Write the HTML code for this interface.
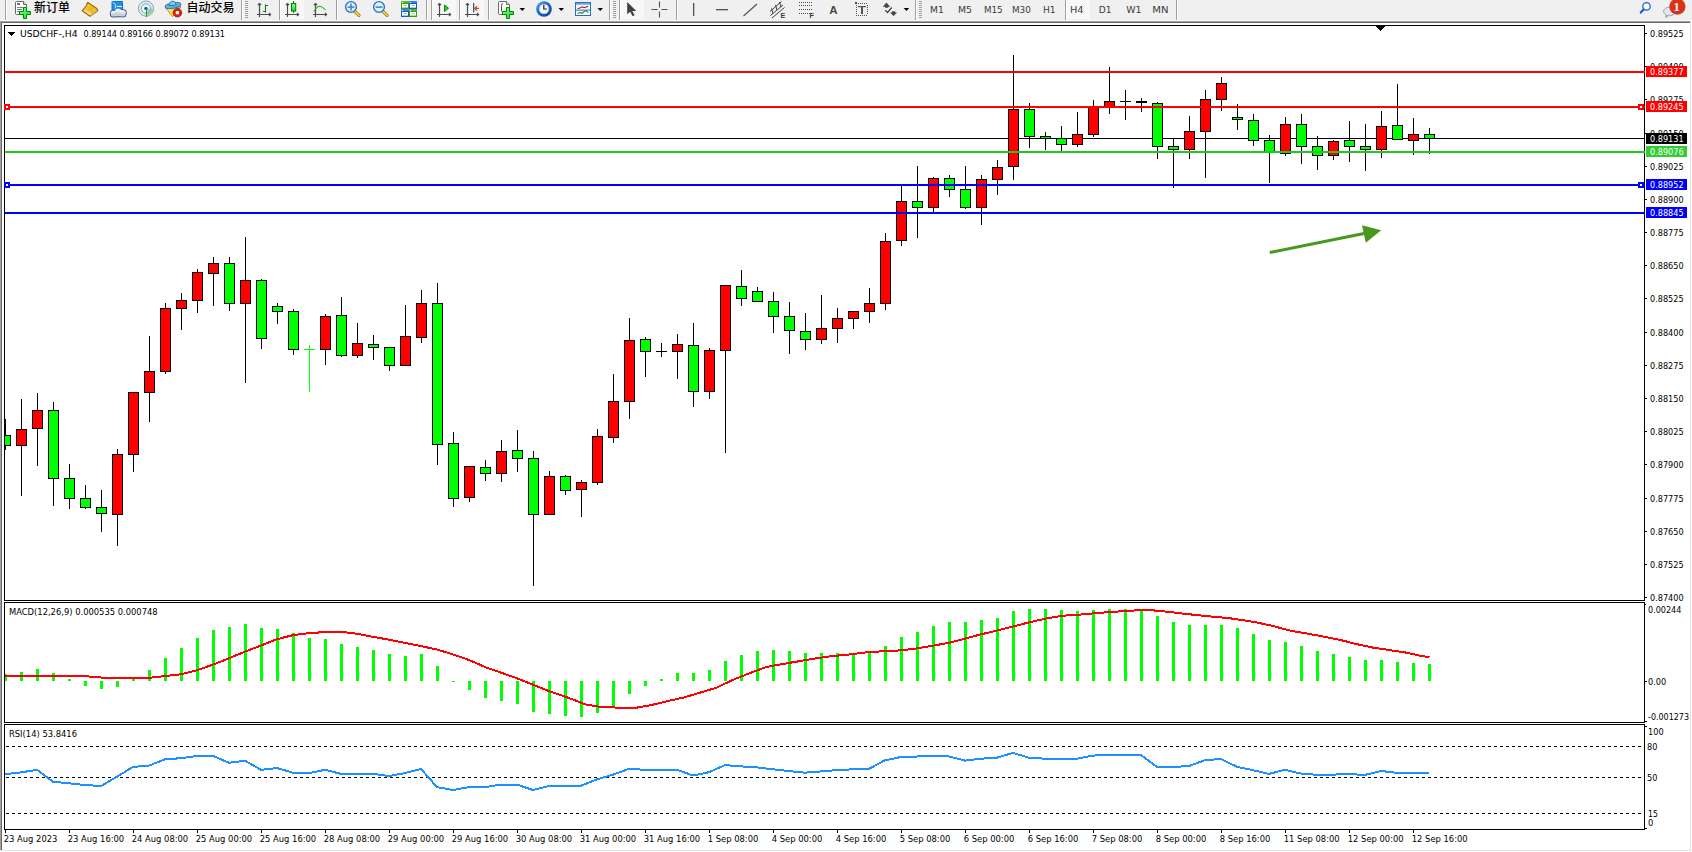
<!DOCTYPE html>
<html><head><meta charset="utf-8"><title>USDCHF-,H4</title>
<style>html,body{margin:0;padding:0;background:#fff;width:1692px;height:852px;overflow:hidden}svg{display:block}text{white-space:pre}</style>
</head><body>
<svg width="1692" height="852" viewBox="0 0 1692 852" shape-rendering="crispEdges" font-family="'DejaVu Sans', 'Liberation Sans', sans-serif" font-stretch="condensed"><g shape-rendering="geometricPrecision">
<rect x="0" y="0" width="1692" height="20" fill="#f0f0f0"/>
<rect x="0" y="20" width="1692" height="1" fill="#f9f9f9"/>
<defs><pattern id="dots" width="2" height="2" patternUnits="userSpaceOnUse"><rect width="2" height="2" fill="#f2f2f2"/><rect width="1" height="1" fill="#fdfdfd"/><rect x="1" y="1" width="1" height="1" fill="#fdfdfd"/></pattern><linearGradient id="gplus" x1="0" y1="0" x2="1" y2="1"><stop offset="0" stop-color="#90ff90"/><stop offset="1" stop-color="#00e020"/></linearGradient><linearGradient id="ggold" x1="0" y1="0" x2="1" y2="1"><stop offset="0" stop-color="#f8e070"/><stop offset="0.5" stop-color="#e8b818"/><stop offset="1" stop-color="#f0d050"/></linearGradient><linearGradient id="gcloud" x1="0" y1="0" x2="0" y2="1"><stop offset="0" stop-color="#ffffff"/><stop offset="1" stop-color="#b8c4d8"/></linearGradient><linearGradient id="gcandle" x1="0" y1="0" x2="0" y2="1"><stop offset="0" stop-color="#a0ffa0"/><stop offset="1" stop-color="#20d040"/></linearGradient><radialGradient id="gclock" cx="0.35" cy="0.3" r="0.75"><stop offset="0" stop-color="#58b0ff"/><stop offset="0.6" stop-color="#1a70d8"/><stop offset="1" stop-color="#084098"/></radialGradient><radialGradient id="gsig" cx="0.5" cy="0.5" r="0.5"><stop offset="0" stop-color="#ffffff"/><stop offset="1" stop-color="#d8ecd8"/></radialGradient></defs>
<rect x="5" y="0" width="1" height="20" fill="#a0a0a0"/>
<rect x="6" y="0" width="1" height="20" fill="#ffffff"/>
<path d="M15.5 2.5 q0-1 1-1 h7 l3 3 v9 q0 1 -1 1 h-9 q-1 0 -1 -1 z" fill="#ffffff" stroke="#6a6a6a"/>
<path d="M23.5 1.5 v3 h3" fill="#e8e8e8" stroke="#6a6a6a"/>
<rect x="17" y="3" width="3" height="2" fill="#707070"/>
<rect x="17" y="7" width="6" height="1" fill="#808080"/>
<rect x="17" y="9" width="5" height="1" fill="#808080"/>
<rect x="17" y="11" width="3" height="1" fill="#808080"/>
<path d="M23.5 7.5 h3 v4 h4 v3 h-4 v4 h-3 v-4 h-4 v-3 h4 z" fill="url(#gplus)" stroke="#008a00"/>
<text x="34" y="12.4" font-size="12" font-weight="500" fill="#000" font-family="'Noto Sans CJK SC', sans-serif" font-stretch="normal">新订单</text>
<path d="M87.7 2.4 L96.8 8.5 L97.7 10.8 L89.9 16.3 L82.3 10.7 L86.1 6 Z" fill="url(#ggold)" stroke="#9a6206" stroke-width="1.1" stroke-linejoin="round"/>
<path d="M83.3 10.8 L89.9 15.5 L92.3 13.8 L85.6 9.2 Z" fill="#f4dc8c" opacity="0.85"/>
<path d="M91.2 15.3 L97.2 11" stroke="#e0d4a0" stroke-width="1.1" stroke-dasharray="1 0.8"/>
<path d="M112 1.5 h10.5 v9 h-10.5 z" fill="#1a90f0" stroke="#1070d0"/>
<path d="M112.5 2 l3 2.5 v7" stroke="#bfe4ff" fill="none"/>
<rect x="117" y="6" width="5" height="1" fill="#e8f6ff"/>
<circle cx="113.6" cy="13.6" r="3.8" fill="#405a88"/>
<circle cx="118.2" cy="11.8" r="4.3" fill="#405a88"/>
<circle cx="122.6" cy="13.2" r="4.1000000000000005" fill="#405a88"/>
<rect x="110.2" y="13" width="15.6" height="4.2" rx="2" fill="#405a88"/>
<circle cx="113.6" cy="13.6" r="2.9" fill="url(#gcloud)"/>
<circle cx="118.2" cy="11.8" r="3.4" fill="url(#gcloud)"/>
<circle cx="122.6" cy="13.2" r="3.2" fill="url(#gcloud)"/>
<rect x="111.1" y="13.6" width="13.8" height="2.7" rx="1.3" fill="#c8d0e0"/>
<circle cx="146" cy="8.6" r="7.6" fill="url(#gsig)" stroke="#7896d0" stroke-width="0.9"/>
<path d="M146 8.6 L146 16.2 A7.6 7.6 0 0 0 153.6 8.6 Z" fill="#9ad09a" opacity="0.8"/>
<circle cx="146" cy="8.6" r="4.8" fill="none" stroke="#7896d0" stroke-width="0.9"/>
<circle cx="145.9" cy="8.4" r="1.7" fill="#2050c8"/>
<rect x="146" y="9" width="1" height="8" fill="#20a020"/>
<path d="M165.6 7.8 L181 6.8 L172.6 16.6 Z" fill="#f6e060" stroke="#c09818" stroke-linejoin="round"/>
<ellipse cx="173" cy="5.6" rx="7.9" ry="2.6" transform="rotate(-10 173 5.6)" fill="#5ab2ec" stroke="#2a7aa8"/>
<path d="M169.2 5.6 q0 -4.4 3.6 -4.4 q3.4 0 3.4 4 z" fill="#80c8f4" stroke="#2a7aa8"/>
<circle cx="177.4" cy="12.7" r="4.3" fill="#e02010" stroke="#a01008" stroke-width="0.8"/>
<rect x="175.8" y="11.1" width="3.2" height="3.2" fill="#ffffff"/>
<text x="186.5" y="12.4" font-size="12" font-weight="500" fill="#000" font-family="'Noto Sans CJK SC', sans-serif" font-stretch="normal">自动交易</text>
<rect x="241" y="0" width="1" height="20" fill="#a0a0a0"/>
<rect x="242" y="0" width="1" height="20" fill="#ffffff"/>
<rect x="245" y="1" width="3" height="1" fill="#a0a0a0"/>
<rect x="245" y="3" width="3" height="1" fill="#a0a0a0"/>
<rect x="245" y="5" width="3" height="1" fill="#a0a0a0"/>
<rect x="245" y="7" width="3" height="1" fill="#a0a0a0"/>
<rect x="245" y="9" width="3" height="1" fill="#a0a0a0"/>
<rect x="245" y="11" width="3" height="1" fill="#a0a0a0"/>
<rect x="245" y="13" width="3" height="1" fill="#a0a0a0"/>
<rect x="245" y="15" width="3" height="1" fill="#a0a0a0"/>
<rect x="245" y="17" width="3" height="1" fill="#a0a0a0"/>
<path d="M259.5 3.5 v13.5 M257 14.5 h13.5" stroke="#4c4c4c" stroke-width="1.2" fill="none"/>
<path d="M257.8 5.2 l1.7 -1.7 l1.7 1.7 M269 12.8 l1.7 1.7 l-1.7 1.7" stroke="#4c4c4c" stroke-width="1.1" fill="none"/>
<path d="M263 11.5 h2.5 M265.5 4.5 v8 M265.5 5.5 h2.5" stroke="#008800" stroke-width="1.1" fill="none"/>
<rect x="279" y="0" width="1" height="20" fill="#a0a0a0"/>
<rect x="280" y="0" width="1" height="20" fill="#ffffff"/>
<rect x="281" y="0" width="23" height="19" fill="url(#dots)"/>
<path d="M287.5 3.5 v13.5 M285 14.5 h13.5" stroke="#4c4c4c" stroke-width="1.2" fill="none"/>
<path d="M285.8 5.2 l1.7 -1.7 l1.7 1.7 M297 12.8 l1.7 1.7 l-1.7 1.7" stroke="#4c4c4c" stroke-width="1.1" fill="none"/>
<path d="M293.5 1 v12" stroke="#008800" stroke-width="1.1"/>
<rect x="291.5" y="3.5" width="4.2" height="7.5" fill="url(#gcandle)" stroke="#008800" stroke-width="1.1"/>
<path d="M315.5 3.5 v13.5 M313 14.5 h13.5" stroke="#4c4c4c" stroke-width="1.2" fill="none"/>
<path d="M313.8 5.2 l1.7 -1.7 l1.7 1.7 M325 12.8 l1.7 1.7 l-1.7 1.7" stroke="#4c4c4c" stroke-width="1.1" fill="none"/>
<path d="M314 11.5 q3 -5.5 6 -5.3 q2.5 0.3 5.5 3.8" stroke="#30a030" fill="none" stroke-width="1.1"/>
<rect x="336" y="0" width="1" height="20" fill="#a0a0a0"/>
<rect x="337" y="0" width="1" height="20" fill="#ffffff"/>
<path d="M354.2 10.6 l4.8 4.8" stroke="#a07800" stroke-width="3.2" stroke-linecap="round"/>
<path d="M354.2 10.6 l4.8 4.8" stroke="#f0d850" stroke-width="1.6" stroke-linecap="round"/>
<circle cx="351" cy="7" r="5.4" fill="#dcf2fc" stroke="#3070c8" stroke-width="1.4"/>
<rect x="347.6" y="6.3" width="6.8" height="1.6" fill="#4a88b0"/>
<rect x="350.2" y="3.5" width="1.6" height="7" fill="#4a88b0"/>
<path d="M382.2 10.6 l4.8 4.8" stroke="#a07800" stroke-width="3.2" stroke-linecap="round"/>
<path d="M382.2 10.6 l4.8 4.8" stroke="#f0d850" stroke-width="1.6" stroke-linecap="round"/>
<circle cx="379" cy="7" r="5.4" fill="#dcf2fc" stroke="#3070c8" stroke-width="1.4"/>
<rect x="375.6" y="6.3" width="6.8" height="1.6" fill="#4a88b0"/>
<rect x="401" y="1" width="8" height="8" fill="#3a9a12"/>
<rect x="401" y="1" width="8" height="2" fill="#58b830"/>
<rect x="402" y="4" width="6" height="4" fill="#ffffff"/>
<rect x="403" y="5" width="4" height="1" fill="#a8e090"/>
<rect x="402" y="7" width="6" height="1" fill="#a8e090"/>
<rect x="402" y="2" width="1" height="1" fill="#ffffff"/>
<rect x="409" y="1" width="8" height="8" fill="#1458d8"/>
<rect x="409" y="1" width="8" height="2" fill="#3c80f0"/>
<rect x="410" y="4" width="6" height="4" fill="#ffffff"/>
<rect x="411" y="5" width="4" height="1" fill="#a8c8f8"/>
<rect x="410" y="7" width="6" height="1" fill="#a8c8f8"/>
<rect x="410" y="2" width="1" height="1" fill="#ffffff"/>
<rect x="401" y="9" width="8" height="8" fill="#1458d8"/>
<rect x="401" y="9" width="8" height="2" fill="#3c80f0"/>
<rect x="402" y="12" width="6" height="4" fill="#ffffff"/>
<rect x="403" y="13" width="4" height="1" fill="#a8c8f8"/>
<rect x="402" y="15" width="6" height="1" fill="#a8c8f8"/>
<rect x="402" y="10" width="1" height="1" fill="#ffffff"/>
<rect x="409" y="9" width="8" height="8" fill="#3a9a12"/>
<rect x="409" y="9" width="8" height="2" fill="#58b830"/>
<rect x="410" y="12" width="6" height="4" fill="#ffffff"/>
<rect x="411" y="13" width="4" height="1" fill="#a8e090"/>
<rect x="410" y="15" width="6" height="1" fill="#a8e090"/>
<rect x="410" y="10" width="1" height="1" fill="#ffffff"/>
<rect x="426" y="0" width="1" height="20" fill="#a0a0a0"/>
<rect x="427" y="0" width="1" height="20" fill="#ffffff"/>
<rect x="431" y="0" width="1" height="20" fill="#a0a0a0"/>
<rect x="432" y="0" width="1" height="20" fill="#ffffff"/>
<rect x="433" y="0" width="23" height="19" fill="url(#dots)"/>
<path d="M439.5 3.5 v13.5 M437 14.5 h13.5" stroke="#4c4c4c" stroke-width="1.2" fill="none"/>
<path d="M437.8 5.2 l1.7 -1.7 l1.7 1.7 M449 12.8 l1.7 1.7 l-1.7 1.7" stroke="#4c4c4c" stroke-width="1.1" fill="none"/>
<path d="M444.5 5 v6.5 l4 -3.25 z" fill="#30d030" stroke="#008800" stroke-width="1"/>
<rect x="459" y="0" width="1" height="20" fill="#a0a0a0"/>
<rect x="460" y="0" width="1" height="20" fill="#ffffff"/>
<rect x="461" y="0" width="23" height="19" fill="url(#dots)"/>
<path d="M467.5 3.5 v13.5 M465 14.5 h13.5" stroke="#4c4c4c" stroke-width="1.2" fill="none"/>
<path d="M465.8 5.2 l1.7 -1.7 l1.7 1.7 M477 12.8 l1.7 1.7 l-1.7 1.7" stroke="#4c4c4c" stroke-width="1.1" fill="none"/>
<rect x="473" y="3" width="1.3" height="9.5" fill="#1868a0"/>
<path d="M479 8.4 h-4 M477 6.2 l-2.2 2.2 l2.2 2.2" stroke="#d84808" fill="none" stroke-width="1.3"/>
<rect x="488" y="0" width="1" height="20" fill="#a0a0a0"/>
<rect x="489" y="0" width="1" height="20" fill="#ffffff"/>
<path d="M498.5 2.5 q0-1 1-1 h7 l3 3 v9 q0 1 -1 1 h-9 q-1 0 -1 -1 z" fill="#ffffff" stroke="#6a6a6a"/>
<path d="M506.5 1.5 v3 h3" fill="#e8e8e8" stroke="#6a6a6a"/>
<path d="M503 3.5 q-1.5 0 -1.5 2 v6" stroke="#404020" fill="none" stroke-width="0.9"/>
<path d="M506.5 7.5 h3 v4 h4 v3 h-4 v4 h-3 v-4 h-4 v-3 h4 z" fill="url(#gplus)" stroke="#008a00"/>
<path d="M519.5 8 h5.5 l-2.75 3 z" fill="#000"/>
<circle cx="544" cy="9" r="7.8" fill="url(#gclock)"/>
<circle cx="544" cy="9" r="5.3" fill="#f4f6f8" stroke="#0a50a8" stroke-width="0.6"/>
<path d="M543.8 5 v4 h3" stroke="#202020" fill="none" stroke-width="1.2"/>
<path d="M544 4 v0.8 M544 13.2 v0.8 M539 9 h0.8 M548.2 9 h0.8" stroke="#909090" stroke-width="0.8"/>
<path d="M558.5 8 h5.5 l-2.75 3 z" fill="#000"/>
<rect x="575.5" y="2.5" width="15" height="13" fill="#f8fbff" stroke="#2a6ac8"/>
<rect x="576" y="3" width="14" height="1.8" fill="#6aa8e8"/>
<rect x="576" y="9.6" width="14" height="1" fill="#2a6ac8"/>
<path d="M577.5 8.5 l2.5 -0.5 l2 -1.2 l2 0.8 l2.2 -0.5 l2 -0.9" stroke="#a02010" fill="none" stroke-width="1.1"/>
<path d="M577.5 13.5 l2.5 -1 l2 0.8 l2.2 -1.8 l2 -0.8 l2 2" stroke="#209020" fill="none" stroke-width="1.1"/>
<path d="M597.5 8 h5.5 l-2.75 3 z" fill="#000"/>
<rect x="609" y="0" width="1" height="20" fill="#a0a0a0"/>
<rect x="610" y="0" width="1" height="20" fill="#ffffff"/>
<rect x="613" y="1" width="3" height="1" fill="#a0a0a0"/>
<rect x="613" y="3" width="3" height="1" fill="#a0a0a0"/>
<rect x="613" y="5" width="3" height="1" fill="#a0a0a0"/>
<rect x="613" y="7" width="3" height="1" fill="#a0a0a0"/>
<rect x="613" y="9" width="3" height="1" fill="#a0a0a0"/>
<rect x="613" y="11" width="3" height="1" fill="#a0a0a0"/>
<rect x="613" y="13" width="3" height="1" fill="#a0a0a0"/>
<rect x="613" y="15" width="3" height="1" fill="#a0a0a0"/>
<rect x="613" y="17" width="3" height="1" fill="#a0a0a0"/>
<rect x="619" y="0" width="1" height="20" fill="#a0a0a0"/>
<rect x="620" y="0" width="1" height="20" fill="#ffffff"/>
<rect x="621" y="0" width="23" height="19" fill="url(#dots)"/>
<path d="M627.2 2 v12.3 l3 -2.6 l2.4 4.6 l2 -1 l-2.3 -4.4 h4 z" fill="#404040"/>
<path d="M659.5 1.5 v6 M659.5 11.5 v6 M651.5 9.5 h6 M661.5 9.5 h6" stroke="#505050" stroke-width="1.1"/>
<rect x="676" y="0" width="1" height="20" fill="#a0a0a0"/>
<rect x="677" y="0" width="1" height="20" fill="#ffffff"/>
<rect x="693" y="3" width="1.3" height="13" fill="#505050"/>
<rect x="716" y="9" width="12" height="1.3" fill="#505050"/>
<path d="M743.5 16 L757 4" stroke="#505050" stroke-width="1.2"/>
<path d="M770 11.5 L781.5 1.5 M770.5 15.5 L783 5 M772 18 L784.5 7.5" stroke="#404040" stroke-width="1" fill="none"/>
<path d="M771.5 8.5 l1.5 5 M775.5 5 l1.5 5 M779.5 2 l1.5 5" stroke="#404040" fill="none"/>
<text x="780.6" y="18.2" font-size="7.2" font-weight="bold" fill="#383838" font-family="'Liberation Sans', Arial, sans-serif" font-stretch="normal">E</text>
<path d="M799 2.5 h13" stroke="#505050" stroke-dasharray="1 1"/>
<path d="M799 5.5 h13" stroke="#505050" stroke-dasharray="1 1"/>
<path d="M799 9.5 h13" stroke="#505050" stroke-dasharray="1 1"/>
<path d="M799 13.5 h13" stroke="#505050" stroke-dasharray="1 1"/>
<text x="809.4" y="18.2" font-size="7.2" font-weight="bold" fill="#383838" font-family="'Liberation Sans', Arial, sans-serif" font-stretch="normal">F</text>
<text x="829.2" y="14" font-size="11.5" font-weight="bold" fill="#484848" font-family="'Liberation Sans', Arial, sans-serif" font-stretch="normal">A</text>
<rect x="858" y="3" width="1" height="1" fill="#505050"/>
<rect x="860" y="3" width="1" height="1" fill="#505050"/>
<rect x="862" y="3" width="1" height="1" fill="#505050"/>
<rect x="864" y="3" width="1" height="1" fill="#505050"/>
<rect x="866" y="3" width="1" height="1" fill="#505050"/>
<rect x="856" y="15" width="1" height="1" fill="#505050"/>
<rect x="858" y="15" width="1" height="1" fill="#505050"/>
<rect x="860" y="15" width="1" height="1" fill="#505050"/>
<rect x="862" y="15" width="1" height="1" fill="#505050"/>
<rect x="864" y="15" width="1" height="1" fill="#505050"/>
<rect x="866" y="15" width="1" height="1" fill="#505050"/>
<rect x="856" y="5" width="1" height="1" fill="#505050"/>
<rect x="867" y="5" width="1" height="1" fill="#505050"/>
<rect x="856" y="7" width="1" height="1" fill="#505050"/>
<rect x="867" y="7" width="1" height="1" fill="#505050"/>
<rect x="856" y="9" width="1" height="1" fill="#505050"/>
<rect x="867" y="9" width="1" height="1" fill="#505050"/>
<rect x="856" y="11" width="1" height="1" fill="#505050"/>
<rect x="867" y="11" width="1" height="1" fill="#505050"/>
<rect x="856" y="13" width="1" height="1" fill="#505050"/>
<rect x="867" y="13" width="1" height="1" fill="#505050"/>
<rect x="855" y="2" width="2" height="2" fill="#505050"/>
<rect x="858" y="6" width="8" height="1.2" fill="#505050"/>
<rect x="861" y="6" width="2" height="8" fill="#505050"/>
<path d="M886.4 2.6 L890.2 6.8 H888.2 V7.8 H885 V6.8 H882.8 Z" fill="#484848"/>
<path d="M893.5 16 L897.2 12.4 H895.2 V11.3 H892 V12.4 H889.9 Z" fill="#484848"/>
<path d="M885.3 10.2 l2.2 2.3 l4.3 -5" stroke="#404040" fill="none" stroke-width="1.2"/>
<path d="M903.7 8 h5.5 l-2.75 3 z" fill="#000"/>
<rect x="915" y="0" width="1" height="20" fill="#a0a0a0"/>
<rect x="916" y="0" width="1" height="20" fill="#ffffff"/>
<rect x="919" y="1" width="3" height="1" fill="#a0a0a0"/>
<rect x="919" y="3" width="3" height="1" fill="#a0a0a0"/>
<rect x="919" y="5" width="3" height="1" fill="#a0a0a0"/>
<rect x="919" y="7" width="3" height="1" fill="#a0a0a0"/>
<rect x="919" y="9" width="3" height="1" fill="#a0a0a0"/>
<rect x="919" y="11" width="3" height="1" fill="#a0a0a0"/>
<rect x="919" y="13" width="3" height="1" fill="#a0a0a0"/>
<rect x="919" y="15" width="3" height="1" fill="#a0a0a0"/>
<rect x="919" y="17" width="3" height="1" fill="#a0a0a0"/>
<rect x="1065" y="0" width="1" height="20" fill="#a0a0a0"/>
<rect x="1066" y="0" width="1" height="20" fill="#ffffff"/>
<rect x="1067" y="0" width="23" height="19" fill="url(#dots)"/>
<text x="930.0999999999999" y="13" font-size="9.4" fill="#3c3c3c" textLength="13.8" lengthAdjust="spacingAndGlyphs">M1</text>
<text x="957.9" y="13" font-size="9.4" fill="#3c3c3c" textLength="14.100000000000001" lengthAdjust="spacingAndGlyphs">M5</text>
<text x="983.9" y="13" font-size="9.4" fill="#3c3c3c" textLength="18.7" lengthAdjust="spacingAndGlyphs">M15</text>
<text x="1011.9" y="13" font-size="9.4" fill="#3c3c3c" textLength="19.0" lengthAdjust="spacingAndGlyphs">M30</text>
<text x="1042.8999999999999" y="13" font-size="9.4" fill="#3c3c3c" textLength="12.700000000000001" lengthAdjust="spacingAndGlyphs">H1</text>
<text x="1070.0" y="13" font-size="9.4" fill="#3c3c3c" textLength="13.600000000000001" lengthAdjust="spacingAndGlyphs">H4</text>
<text x="1098.8" y="13" font-size="9.4" fill="#3c3c3c" textLength="12.8" lengthAdjust="spacingAndGlyphs">D1</text>
<text x="1126.3" y="13" font-size="9.4" fill="#3c3c3c" textLength="15.3" lengthAdjust="spacingAndGlyphs">W1</text>
<text x="1152.3" y="13" font-size="9.4" fill="#3c3c3c" textLength="16.3" lengthAdjust="spacingAndGlyphs">MN</text>
<rect x="1176" y="0" width="1" height="20" fill="#a0a0a0"/>
<rect x="1177" y="0" width="1" height="20" fill="#ffffff"/>
<circle cx="1646.5" cy="6.4" r="3.7" fill="#fafcff" stroke="#1a5fd0" stroke-width="1.3"/>
<path d="M1643.6 9.6 l-2.8 3" stroke="#1a5fd0" stroke-width="2.2" stroke-linecap="round"/>
<ellipse cx="1669.5" cy="11.5" rx="6" ry="4.3" fill="#e4e6ee" stroke="#a0a0a8"/>
<path d="M1666.5 15 l-0.8 2.5 l3 -2.4" fill="#e4e6ee" stroke="#909098"/>
<circle cx="1677.4" cy="6.6" r="8.1" fill="#dc3218"/>
<text x="1676.6" y="11.3" font-size="12.5" font-weight="bold" fill="#fff" text-anchor="middle" font-family="'Liberation Serif', serif" font-stretch="normal">1</text>
</g>
<rect x="0" y="21" width="1691" height="1" fill="#a0a0a0"/>
<rect x="1" y="22" width="1689" height="1" fill="#696969"/>
<rect x="0" y="21" width="1" height="830" fill="#a0a0a0"/>
<rect x="1" y="22" width="1" height="828" fill="#696969"/>
<rect x="2" y="23" width="1688" height="827" fill="#ffffff"/>
<rect x="1690" y="21" width="1" height="830" fill="#e3e3e3"/>
<rect x="0" y="850" width="1691" height="1" fill="#e3e3e3"/>
<rect x="1691" y="21" width="1" height="831" fill="#ffffff"/>
<rect x="0" y="851" width="1692" height="1" fill="#ffffff"/>
<rect x="4.5" y="25.5" width="1640" height="575" fill="none" stroke="#000" stroke-width="1"/>
<rect x="4.5" y="602.5" width="1640" height="120" fill="none" stroke="#000" stroke-width="1"/>
<rect x="4.5" y="724.5" width="1640" height="105" fill="none" stroke="#000" stroke-width="1"/>
<defs><clipPath id="cm"><rect x="5" y="26" width="1639" height="574"/></clipPath><clipPath id="cmacd"><rect x="5" y="603" width="1639" height="119"/></clipPath><clipPath id="crsi"><rect x="5" y="725" width="1639" height="104"/></clipPath></defs>
<rect x="5" y="138" width="1639" height="1" fill="#000"/>
<g clip-path="url(#cm)">
<rect x="5" y="419" width="1" height="31" fill="#000"/>
<rect x="0" y="435" width="11" height="11" fill="#000"/>
<rect x="1" y="436" width="9" height="9" fill="#00ff00"/>
<rect x="21" y="399" width="1" height="97" fill="#000"/>
<rect x="16" y="429" width="11" height="17" fill="#000"/>
<rect x="17" y="430" width="9" height="15" fill="#ff0000"/>
<rect x="37" y="393" width="1" height="73" fill="#000"/>
<rect x="32" y="410" width="11" height="19" fill="#000"/>
<rect x="33" y="411" width="9" height="17" fill="#ff0000"/>
<rect x="53" y="402" width="1" height="104" fill="#000"/>
<rect x="48" y="410" width="11" height="69" fill="#000"/>
<rect x="49" y="411" width="9" height="67" fill="#00ff00"/>
<rect x="69" y="464" width="1" height="45" fill="#000"/>
<rect x="64" y="478" width="11" height="21" fill="#000"/>
<rect x="65" y="479" width="9" height="19" fill="#00ff00"/>
<rect x="85" y="485" width="1" height="24" fill="#000"/>
<rect x="80" y="498" width="11" height="10" fill="#000"/>
<rect x="81" y="499" width="9" height="8" fill="#00ff00"/>
<rect x="101" y="490" width="1" height="42" fill="#000"/>
<rect x="96" y="507" width="11" height="7" fill="#000"/>
<rect x="97" y="508" width="9" height="5" fill="#00ff00"/>
<rect x="117" y="449" width="1" height="97" fill="#000"/>
<rect x="112" y="454" width="11" height="61" fill="#000"/>
<rect x="113" y="455" width="9" height="59" fill="#ff0000"/>
<rect x="133" y="392" width="1" height="80" fill="#000"/>
<rect x="128" y="392" width="11" height="63" fill="#000"/>
<rect x="129" y="393" width="9" height="61" fill="#ff0000"/>
<rect x="149" y="336" width="1" height="86" fill="#000"/>
<rect x="144" y="371" width="11" height="22" fill="#000"/>
<rect x="145" y="372" width="9" height="20" fill="#ff0000"/>
<rect x="165" y="303" width="1" height="71" fill="#000"/>
<rect x="160" y="308" width="11" height="64" fill="#000"/>
<rect x="161" y="309" width="9" height="62" fill="#ff0000"/>
<rect x="181" y="293" width="1" height="37" fill="#000"/>
<rect x="176" y="300" width="11" height="9" fill="#000"/>
<rect x="177" y="301" width="9" height="7" fill="#ff0000"/>
<rect x="197" y="269" width="1" height="44" fill="#000"/>
<rect x="192" y="272" width="11" height="29" fill="#000"/>
<rect x="193" y="273" width="9" height="27" fill="#ff0000"/>
<rect x="213" y="257" width="1" height="49" fill="#000"/>
<rect x="208" y="263" width="11" height="11" fill="#000"/>
<rect x="209" y="264" width="9" height="9" fill="#ff0000"/>
<rect x="229" y="257" width="1" height="54" fill="#000"/>
<rect x="224" y="263" width="11" height="41" fill="#000"/>
<rect x="225" y="264" width="9" height="39" fill="#00ff00"/>
<rect x="245" y="237" width="1" height="146" fill="#000"/>
<rect x="240" y="280" width="11" height="24" fill="#000"/>
<rect x="241" y="281" width="9" height="22" fill="#ff0000"/>
<rect x="261" y="279" width="1" height="70" fill="#000"/>
<rect x="256" y="280" width="11" height="59" fill="#000"/>
<rect x="257" y="281" width="9" height="57" fill="#00ff00"/>
<rect x="277" y="303" width="1" height="21" fill="#000"/>
<rect x="272" y="306" width="11" height="6" fill="#000"/>
<rect x="273" y="307" width="9" height="4" fill="#00ff00"/>
<rect x="293" y="309" width="1" height="46" fill="#000"/>
<rect x="288" y="311" width="11" height="39" fill="#000"/>
<rect x="289" y="312" width="9" height="37" fill="#00ff00"/>
<rect x="309" y="345" width="1" height="47" fill="#00ff00"/>
<rect x="304" y="349" width="11" height="1" fill="#00ff00"/>
<rect x="325" y="314" width="1" height="51" fill="#000"/>
<rect x="320" y="316" width="11" height="34" fill="#000"/>
<rect x="321" y="317" width="9" height="32" fill="#ff0000"/>
<rect x="341" y="297" width="1" height="60" fill="#000"/>
<rect x="336" y="315" width="11" height="41" fill="#000"/>
<rect x="337" y="316" width="9" height="39" fill="#00ff00"/>
<rect x="357" y="323" width="1" height="35" fill="#000"/>
<rect x="352" y="343" width="11" height="13" fill="#000"/>
<rect x="353" y="344" width="9" height="11" fill="#ff0000"/>
<rect x="373" y="335" width="1" height="25" fill="#000"/>
<rect x="368" y="344" width="11" height="4" fill="#000"/>
<rect x="369" y="345" width="9" height="2" fill="#00ff00"/>
<rect x="389" y="347" width="1" height="24" fill="#000"/>
<rect x="384" y="347" width="11" height="19" fill="#000"/>
<rect x="385" y="348" width="9" height="17" fill="#00ff00"/>
<rect x="405" y="305" width="1" height="61" fill="#000"/>
<rect x="400" y="336" width="11" height="30" fill="#000"/>
<rect x="401" y="337" width="9" height="28" fill="#ff0000"/>
<rect x="421" y="290" width="1" height="53" fill="#000"/>
<rect x="416" y="303" width="11" height="35" fill="#000"/>
<rect x="417" y="304" width="9" height="33" fill="#ff0000"/>
<rect x="437" y="283" width="1" height="182" fill="#000"/>
<rect x="432" y="303" width="11" height="142" fill="#000"/>
<rect x="433" y="304" width="9" height="140" fill="#00ff00"/>
<rect x="453" y="432" width="1" height="75" fill="#000"/>
<rect x="448" y="443" width="11" height="56" fill="#000"/>
<rect x="449" y="444" width="9" height="54" fill="#00ff00"/>
<rect x="469" y="466" width="1" height="36" fill="#000"/>
<rect x="464" y="466" width="11" height="32" fill="#000"/>
<rect x="465" y="467" width="9" height="30" fill="#ff0000"/>
<rect x="485" y="460" width="1" height="21" fill="#000"/>
<rect x="480" y="467" width="11" height="7" fill="#000"/>
<rect x="481" y="468" width="9" height="5" fill="#00ff00"/>
<rect x="501" y="440" width="1" height="42" fill="#000"/>
<rect x="496" y="451" width="11" height="23" fill="#000"/>
<rect x="497" y="452" width="9" height="21" fill="#ff0000"/>
<rect x="517" y="430" width="1" height="42" fill="#000"/>
<rect x="512" y="450" width="11" height="9" fill="#000"/>
<rect x="513" y="451" width="9" height="7" fill="#00ff00"/>
<rect x="533" y="451" width="1" height="135" fill="#000"/>
<rect x="528" y="458" width="11" height="57" fill="#000"/>
<rect x="529" y="459" width="9" height="55" fill="#00ff00"/>
<rect x="549" y="471" width="1" height="44" fill="#000"/>
<rect x="544" y="476" width="11" height="39" fill="#000"/>
<rect x="545" y="477" width="9" height="37" fill="#ff0000"/>
<rect x="565" y="475" width="1" height="20" fill="#000"/>
<rect x="560" y="476" width="11" height="15" fill="#000"/>
<rect x="561" y="477" width="9" height="13" fill="#00ff00"/>
<rect x="581" y="480" width="1" height="37" fill="#000"/>
<rect x="576" y="482" width="11" height="8" fill="#000"/>
<rect x="577" y="483" width="9" height="6" fill="#ff0000"/>
<rect x="597" y="429" width="1" height="56" fill="#000"/>
<rect x="592" y="436" width="11" height="47" fill="#000"/>
<rect x="593" y="437" width="9" height="45" fill="#ff0000"/>
<rect x="613" y="374" width="1" height="69" fill="#000"/>
<rect x="608" y="401" width="11" height="37" fill="#000"/>
<rect x="609" y="402" width="9" height="35" fill="#ff0000"/>
<rect x="629" y="318" width="1" height="101" fill="#000"/>
<rect x="624" y="340" width="11" height="62" fill="#000"/>
<rect x="625" y="341" width="9" height="60" fill="#ff0000"/>
<rect x="645" y="337" width="1" height="40" fill="#000"/>
<rect x="640" y="339" width="11" height="13" fill="#000"/>
<rect x="641" y="340" width="9" height="11" fill="#00ff00"/>
<rect x="661" y="343" width="1" height="14" fill="#000000"/>
<rect x="656" y="351" width="11" height="1" fill="#000000"/>
<rect x="677" y="334" width="1" height="45" fill="#000"/>
<rect x="672" y="344" width="11" height="8" fill="#000"/>
<rect x="673" y="345" width="9" height="6" fill="#ff0000"/>
<rect x="693" y="323" width="1" height="84" fill="#000"/>
<rect x="688" y="345" width="11" height="47" fill="#000"/>
<rect x="689" y="346" width="9" height="45" fill="#00ff00"/>
<rect x="709" y="348" width="1" height="51" fill="#000"/>
<rect x="704" y="350" width="11" height="42" fill="#000"/>
<rect x="705" y="351" width="9" height="40" fill="#ff0000"/>
<rect x="725" y="285" width="1" height="168" fill="#000"/>
<rect x="720" y="285" width="11" height="66" fill="#000"/>
<rect x="721" y="286" width="9" height="64" fill="#ff0000"/>
<rect x="741" y="270" width="1" height="36" fill="#000"/>
<rect x="736" y="286" width="11" height="13" fill="#000"/>
<rect x="737" y="287" width="9" height="11" fill="#00ff00"/>
<rect x="757" y="287" width="1" height="15" fill="#000"/>
<rect x="752" y="291" width="11" height="11" fill="#000"/>
<rect x="753" y="292" width="9" height="9" fill="#00ff00"/>
<rect x="773" y="292" width="1" height="41" fill="#000"/>
<rect x="768" y="301" width="11" height="16" fill="#000"/>
<rect x="769" y="302" width="9" height="14" fill="#00ff00"/>
<rect x="789" y="302" width="1" height="52" fill="#000"/>
<rect x="784" y="316" width="11" height="15" fill="#000"/>
<rect x="785" y="317" width="9" height="13" fill="#00ff00"/>
<rect x="805" y="313" width="1" height="37" fill="#000"/>
<rect x="800" y="331" width="11" height="9" fill="#000"/>
<rect x="801" y="332" width="9" height="7" fill="#00ff00"/>
<rect x="821" y="295" width="1" height="49" fill="#000"/>
<rect x="816" y="328" width="11" height="12" fill="#000"/>
<rect x="817" y="329" width="9" height="10" fill="#ff0000"/>
<rect x="837" y="308" width="1" height="35" fill="#000"/>
<rect x="832" y="318" width="11" height="11" fill="#000"/>
<rect x="833" y="319" width="9" height="9" fill="#ff0000"/>
<rect x="853" y="311" width="1" height="18" fill="#000"/>
<rect x="848" y="311" width="11" height="8" fill="#000"/>
<rect x="849" y="312" width="9" height="6" fill="#ff0000"/>
<rect x="869" y="288" width="1" height="35" fill="#000"/>
<rect x="864" y="303" width="11" height="9" fill="#000"/>
<rect x="865" y="304" width="9" height="7" fill="#ff0000"/>
<rect x="885" y="233" width="1" height="77" fill="#000"/>
<rect x="880" y="241" width="11" height="63" fill="#000"/>
<rect x="881" y="242" width="9" height="61" fill="#ff0000"/>
<rect x="901" y="186" width="1" height="60" fill="#000"/>
<rect x="896" y="201" width="11" height="40" fill="#000"/>
<rect x="897" y="202" width="9" height="38" fill="#ff0000"/>
<rect x="917" y="166" width="1" height="72" fill="#000"/>
<rect x="912" y="201" width="11" height="7" fill="#000"/>
<rect x="913" y="202" width="9" height="5" fill="#00ff00"/>
<rect x="933" y="177" width="1" height="35" fill="#000"/>
<rect x="928" y="178" width="11" height="30" fill="#000"/>
<rect x="929" y="179" width="9" height="28" fill="#ff0000"/>
<rect x="949" y="175" width="1" height="22" fill="#000"/>
<rect x="944" y="178" width="11" height="12" fill="#000"/>
<rect x="945" y="179" width="9" height="10" fill="#00ff00"/>
<rect x="965" y="166" width="1" height="43" fill="#000"/>
<rect x="960" y="189" width="11" height="19" fill="#000"/>
<rect x="961" y="190" width="9" height="17" fill="#00ff00"/>
<rect x="981" y="175" width="1" height="50" fill="#000"/>
<rect x="976" y="179" width="11" height="29" fill="#000"/>
<rect x="977" y="180" width="9" height="27" fill="#ff0000"/>
<rect x="997" y="160" width="1" height="35" fill="#000"/>
<rect x="992" y="167" width="11" height="13" fill="#000"/>
<rect x="993" y="168" width="9" height="11" fill="#ff0000"/>
<rect x="1013" y="55" width="1" height="125" fill="#000"/>
<rect x="1008" y="109" width="11" height="58" fill="#000"/>
<rect x="1009" y="110" width="9" height="56" fill="#ff0000"/>
<rect x="1029" y="103" width="1" height="45" fill="#000"/>
<rect x="1024" y="109" width="11" height="28" fill="#000"/>
<rect x="1025" y="110" width="9" height="26" fill="#00ff00"/>
<rect x="1045" y="132" width="1" height="18" fill="#000"/>
<rect x="1040" y="136" width="11" height="3" fill="#000"/>
<rect x="1041" y="137" width="9" height="1" fill="#00ff00"/>
<rect x="1061" y="126" width="1" height="25" fill="#000"/>
<rect x="1056" y="138" width="11" height="7" fill="#000"/>
<rect x="1057" y="139" width="9" height="5" fill="#00ff00"/>
<rect x="1077" y="112" width="1" height="35" fill="#000"/>
<rect x="1072" y="134" width="11" height="11" fill="#000"/>
<rect x="1073" y="135" width="9" height="9" fill="#ff0000"/>
<rect x="1093" y="100" width="1" height="37" fill="#000"/>
<rect x="1088" y="106" width="11" height="29" fill="#000"/>
<rect x="1089" y="107" width="9" height="27" fill="#ff0000"/>
<rect x="1109" y="67" width="1" height="47" fill="#000"/>
<rect x="1104" y="101" width="11" height="6" fill="#000"/>
<rect x="1105" y="102" width="9" height="4" fill="#ff0000"/>
<rect x="1125" y="90" width="1" height="30" fill="#000000"/>
<rect x="1120" y="101" width="11" height="1" fill="#000000"/>
<rect x="1141" y="98" width="1" height="14" fill="#000000"/>
<rect x="1136" y="101" width="11" height="2" fill="#000000"/>
<rect x="1157" y="102" width="1" height="57" fill="#000"/>
<rect x="1152" y="103" width="11" height="44" fill="#000"/>
<rect x="1153" y="104" width="9" height="42" fill="#00ff00"/>
<rect x="1173" y="138" width="1" height="50" fill="#000"/>
<rect x="1168" y="146" width="11" height="4" fill="#000"/>
<rect x="1169" y="147" width="9" height="2" fill="#00ff00"/>
<rect x="1189" y="116" width="1" height="43" fill="#000"/>
<rect x="1184" y="131" width="11" height="19" fill="#000"/>
<rect x="1185" y="132" width="9" height="17" fill="#ff0000"/>
<rect x="1205" y="90" width="1" height="88" fill="#000"/>
<rect x="1200" y="99" width="11" height="33" fill="#000"/>
<rect x="1201" y="100" width="9" height="31" fill="#ff0000"/>
<rect x="1221" y="77" width="1" height="34" fill="#000"/>
<rect x="1216" y="83" width="11" height="17" fill="#000"/>
<rect x="1217" y="84" width="9" height="15" fill="#ff0000"/>
<rect x="1237" y="104" width="1" height="26" fill="#000"/>
<rect x="1232" y="117" width="11" height="3" fill="#000"/>
<rect x="1233" y="118" width="9" height="1" fill="#00ff00"/>
<rect x="1253" y="114" width="1" height="32" fill="#000"/>
<rect x="1248" y="120" width="11" height="21" fill="#000"/>
<rect x="1249" y="121" width="9" height="19" fill="#00ff00"/>
<rect x="1269" y="135" width="1" height="48" fill="#000"/>
<rect x="1264" y="140" width="11" height="12" fill="#000"/>
<rect x="1265" y="141" width="9" height="10" fill="#00ff00"/>
<rect x="1285" y="117" width="1" height="39" fill="#000"/>
<rect x="1280" y="124" width="11" height="30" fill="#000"/>
<rect x="1281" y="125" width="9" height="28" fill="#ff0000"/>
<rect x="1301" y="114" width="1" height="50" fill="#000"/>
<rect x="1296" y="124" width="11" height="23" fill="#000"/>
<rect x="1297" y="125" width="9" height="21" fill="#00ff00"/>
<rect x="1317" y="136" width="1" height="34" fill="#000"/>
<rect x="1312" y="146" width="11" height="10" fill="#000"/>
<rect x="1313" y="147" width="9" height="8" fill="#00ff00"/>
<rect x="1333" y="140" width="1" height="20" fill="#000"/>
<rect x="1328" y="141" width="11" height="15" fill="#000"/>
<rect x="1329" y="142" width="9" height="13" fill="#ff0000"/>
<rect x="1349" y="121" width="1" height="41" fill="#000"/>
<rect x="1344" y="140" width="11" height="7" fill="#000"/>
<rect x="1345" y="141" width="9" height="5" fill="#00ff00"/>
<rect x="1365" y="124" width="1" height="47" fill="#000"/>
<rect x="1360" y="146" width="11" height="4" fill="#000"/>
<rect x="1361" y="147" width="9" height="2" fill="#00ff00"/>
<rect x="1381" y="111" width="1" height="47" fill="#000"/>
<rect x="1376" y="126" width="11" height="24" fill="#000"/>
<rect x="1377" y="127" width="9" height="22" fill="#ff0000"/>
<rect x="1397" y="84" width="1" height="56" fill="#000"/>
<rect x="1392" y="125" width="11" height="15" fill="#000"/>
<rect x="1393" y="126" width="9" height="13" fill="#00ff00"/>
<rect x="1413" y="118" width="1" height="37" fill="#000"/>
<rect x="1408" y="134" width="11" height="7" fill="#000"/>
<rect x="1409" y="135" width="9" height="5" fill="#ff0000"/>
<rect x="1429" y="128" width="1" height="26" fill="#000"/>
<rect x="1424" y="134" width="11" height="5" fill="#000"/>
<rect x="1425" y="135" width="9" height="3" fill="#00ff00"/>
</g>
<rect x="5" y="71" width="1640" height="2" fill="#ff0000"/>
<rect x="1646" y="66" width="41" height="11" fill="#ff0000"/>
<text x="1650" y="75" font-size="9.3" fill="#fff" text-anchor="start">0.89377</text>
<rect x="5" y="106" width="1640" height="2" fill="#ff0000"/>
<rect x="1646" y="101" width="41" height="11" fill="#ff0000"/>
<text x="1650" y="110" font-size="9.3" fill="#fff" text-anchor="start">0.89245</text>
<rect x="4" y="104" width="6" height="6" fill="#ff0000"/>
<rect x="6" y="106" width="2" height="2" fill="#fff"/>
<rect x="1638" y="104" width="6" height="6" fill="#ff0000"/>
<rect x="1640" y="106" width="2" height="2" fill="#fff"/>
<rect x="5" y="151" width="1640" height="2" fill="#20c820"/>
<rect x="1646" y="146" width="41" height="11" fill="#32cd32"/>
<text x="1650" y="155" font-size="9.3" fill="#fff" text-anchor="start">0.89076</text>
<rect x="5" y="184" width="1640" height="2" fill="#0000ff"/>
<rect x="1646" y="179" width="41" height="11" fill="#0000ff"/>
<text x="1650" y="188" font-size="9.3" fill="#fff" text-anchor="start">0.88952</text>
<rect x="4" y="182" width="6" height="6" fill="#0000ff"/>
<rect x="6" y="184" width="2" height="2" fill="#fff"/>
<rect x="1638" y="182" width="6" height="6" fill="#0000ff"/>
<rect x="1640" y="184" width="2" height="2" fill="#fff"/>
<rect x="5" y="212" width="1640" height="2" fill="#0000ff"/>
<rect x="1646" y="207" width="41" height="11" fill="#0000ff"/>
<text x="1650" y="216" font-size="9.3" fill="#fff" text-anchor="start">0.88845</text>
<rect x="1646" y="133" width="41" height="11" fill="#000"/>
<text x="1650" y="142" font-size="9.3" fill="#fff" text-anchor="start" textLength="33.6" lengthAdjust="spacingAndGlyphs">0.89131</text>
<g shape-rendering="geometricPrecision"><path d="M1269.8 252.6 L1364 233.4" stroke="#46981f" stroke-width="3.1"/>
<path d="M1362 225.2 L1381.2 230.3 L1365.8 242.8 Z" fill="#46981f"/></g>
<rect x="1376" y="26" width="9" height="1" fill="#000"/>
<rect x="1377" y="27" width="7" height="1" fill="#000"/>
<rect x="1378" y="28" width="5" height="1" fill="#000"/>
<rect x="1379" y="29" width="3" height="1" fill="#000"/>
<rect x="1380" y="30" width="1" height="1" fill="#000"/>
<rect x="1645" y="33" width="2" height="1" fill="#000"/>
<rect x="1645" y="66" width="2" height="1" fill="#000"/>
<rect x="1645" y="99" width="2" height="1" fill="#000"/>
<rect x="1645" y="133" width="2" height="1" fill="#000"/>
<rect x="1645" y="166" width="2" height="1" fill="#000"/>
<rect x="1645" y="199" width="2" height="1" fill="#000"/>
<rect x="1645" y="232" width="2" height="1" fill="#000"/>
<rect x="1645" y="265" width="2" height="1" fill="#000"/>
<rect x="1645" y="298" width="2" height="1" fill="#000"/>
<rect x="1645" y="332" width="2" height="1" fill="#000"/>
<rect x="1645" y="365" width="2" height="1" fill="#000"/>
<rect x="1645" y="398" width="2" height="1" fill="#000"/>
<rect x="1645" y="431" width="2" height="1" fill="#000"/>
<rect x="1645" y="464" width="2" height="1" fill="#000"/>
<rect x="1645" y="498" width="2" height="1" fill="#000"/>
<rect x="1645" y="531" width="2" height="1" fill="#000"/>
<rect x="1645" y="564" width="2" height="1" fill="#000"/>
<rect x="1645" y="597" width="2" height="1" fill="#000"/>
<path d="M8 32 h7 l-3.5 4 z" fill="#000"/>
<text x="20" y="37" font-size="9.3" fill="#000" text-anchor="start" textLength="57.5" lengthAdjust="spacingAndGlyphs">USDCHF-,H4</text>
<text x="83.5" y="37" font-size="9.3" fill="#000" text-anchor="start" textLength="141.5" lengthAdjust="spacingAndGlyphs">0.89144 0.89166 0.89072 0.89131</text>
<g clip-path="url(#cmacd)">
<rect x="4" y="674" width="3" height="7" fill="#00ff00"/>
<rect x="20" y="672" width="3" height="9" fill="#00ff00"/>
<rect x="36" y="669" width="3" height="12" fill="#00ff00"/>
<rect x="52" y="673" width="3" height="8" fill="#00ff00"/>
<rect x="68" y="679" width="3" height="2" fill="#00ff00"/>
<rect x="84" y="681" width="3" height="5" fill="#00ff00"/>
<rect x="100" y="681" width="3" height="8" fill="#00ff00"/>
<rect x="116" y="681" width="3" height="6" fill="#00ff00"/>
<rect x="132" y="679" width="3" height="2" fill="#00ff00"/>
<rect x="148" y="670" width="3" height="11" fill="#00ff00"/>
<rect x="164" y="658" width="3" height="23" fill="#00ff00"/>
<rect x="180" y="648" width="3" height="33" fill="#00ff00"/>
<rect x="196" y="638" width="3" height="43" fill="#00ff00"/>
<rect x="212" y="630" width="3" height="51" fill="#00ff00"/>
<rect x="228" y="627" width="3" height="54" fill="#00ff00"/>
<rect x="244" y="624" width="3" height="57" fill="#00ff00"/>
<rect x="260" y="628" width="3" height="53" fill="#00ff00"/>
<rect x="276" y="629" width="3" height="52" fill="#00ff00"/>
<rect x="292" y="633" width="3" height="48" fill="#00ff00"/>
<rect x="308" y="638" width="3" height="43" fill="#00ff00"/>
<rect x="324" y="639" width="3" height="42" fill="#00ff00"/>
<rect x="340" y="644" width="3" height="37" fill="#00ff00"/>
<rect x="356" y="647" width="3" height="34" fill="#00ff00"/>
<rect x="372" y="650" width="3" height="31" fill="#00ff00"/>
<rect x="388" y="654" width="3" height="27" fill="#00ff00"/>
<rect x="404" y="656" width="3" height="25" fill="#00ff00"/>
<rect x="420" y="654" width="3" height="27" fill="#00ff00"/>
<rect x="436" y="666" width="3" height="15" fill="#00ff00"/>
<rect x="452" y="681" width="3" height="1" fill="#00ff00"/>
<rect x="468" y="681" width="3" height="9" fill="#00ff00"/>
<rect x="484" y="681" width="3" height="17" fill="#00ff00"/>
<rect x="500" y="681" width="3" height="20" fill="#00ff00"/>
<rect x="516" y="681" width="3" height="23" fill="#00ff00"/>
<rect x="532" y="681" width="3" height="31" fill="#00ff00"/>
<rect x="548" y="681" width="3" height="33" fill="#00ff00"/>
<rect x="564" y="681" width="3" height="35" fill="#00ff00"/>
<rect x="580" y="681" width="3" height="36" fill="#00ff00"/>
<rect x="596" y="681" width="3" height="32" fill="#00ff00"/>
<rect x="612" y="681" width="3" height="25" fill="#00ff00"/>
<rect x="628" y="681" width="3" height="13" fill="#00ff00"/>
<rect x="644" y="681" width="3" height="5" fill="#00ff00"/>
<rect x="660" y="679" width="3" height="2" fill="#00ff00"/>
<rect x="676" y="673" width="3" height="8" fill="#00ff00"/>
<rect x="692" y="673" width="3" height="8" fill="#00ff00"/>
<rect x="708" y="670" width="3" height="11" fill="#00ff00"/>
<rect x="724" y="661" width="3" height="20" fill="#00ff00"/>
<rect x="740" y="655" width="3" height="26" fill="#00ff00"/>
<rect x="756" y="651" width="3" height="30" fill="#00ff00"/>
<rect x="772" y="650" width="3" height="31" fill="#00ff00"/>
<rect x="788" y="651" width="3" height="30" fill="#00ff00"/>
<rect x="804" y="653" width="3" height="28" fill="#00ff00"/>
<rect x="820" y="653" width="3" height="28" fill="#00ff00"/>
<rect x="836" y="653" width="3" height="28" fill="#00ff00"/>
<rect x="852" y="653" width="3" height="28" fill="#00ff00"/>
<rect x="868" y="652" width="3" height="29" fill="#00ff00"/>
<rect x="884" y="646" width="3" height="35" fill="#00ff00"/>
<rect x="900" y="637" width="3" height="44" fill="#00ff00"/>
<rect x="916" y="632" width="3" height="49" fill="#00ff00"/>
<rect x="932" y="626" width="3" height="55" fill="#00ff00"/>
<rect x="948" y="622" width="3" height="59" fill="#00ff00"/>
<rect x="964" y="622" width="3" height="59" fill="#00ff00"/>
<rect x="980" y="620" width="3" height="61" fill="#00ff00"/>
<rect x="996" y="618" width="3" height="63" fill="#00ff00"/>
<rect x="1012" y="611" width="3" height="70" fill="#00ff00"/>
<rect x="1028" y="609" width="3" height="72" fill="#00ff00"/>
<rect x="1044" y="609" width="3" height="72" fill="#00ff00"/>
<rect x="1060" y="610" width="3" height="71" fill="#00ff00"/>
<rect x="1076" y="611" width="3" height="70" fill="#00ff00"/>
<rect x="1092" y="610" width="3" height="71" fill="#00ff00"/>
<rect x="1108" y="609" width="3" height="72" fill="#00ff00"/>
<rect x="1124" y="609" width="3" height="72" fill="#00ff00"/>
<rect x="1140" y="610" width="3" height="71" fill="#00ff00"/>
<rect x="1156" y="616" width="3" height="65" fill="#00ff00"/>
<rect x="1172" y="622" width="3" height="59" fill="#00ff00"/>
<rect x="1188" y="625" width="3" height="56" fill="#00ff00"/>
<rect x="1204" y="625" width="3" height="56" fill="#00ff00"/>
<rect x="1220" y="625" width="3" height="56" fill="#00ff00"/>
<rect x="1236" y="628" width="3" height="53" fill="#00ff00"/>
<rect x="1252" y="634" width="3" height="47" fill="#00ff00"/>
<rect x="1268" y="640" width="3" height="41" fill="#00ff00"/>
<rect x="1284" y="642" width="3" height="39" fill="#00ff00"/>
<rect x="1300" y="646" width="3" height="35" fill="#00ff00"/>
<rect x="1316" y="651" width="3" height="30" fill="#00ff00"/>
<rect x="1332" y="654" width="3" height="27" fill="#00ff00"/>
<rect x="1348" y="657" width="3" height="24" fill="#00ff00"/>
<rect x="1364" y="660" width="3" height="21" fill="#00ff00"/>
<rect x="1380" y="660" width="3" height="21" fill="#00ff00"/>
<rect x="1396" y="662" width="3" height="19" fill="#00ff00"/>
<rect x="1412" y="663" width="3" height="18" fill="#00ff00"/>
<rect x="1428" y="664" width="3" height="17" fill="#00ff00"/>
<polyline points="5,675.9 85,675.9 93,677.1 101,677.5 117,678.1 149,677.8 165,676.1 181,674.3 197,670.3 213,664.6 229,658.3 245,651.6 261,645.5 277,639.2 293,635.1 309,633.1 325,632.1 341,631.8 357,633.8 373,636.8 389,639.7 405,643 420,645.9 437,649.5 453,654.4 469,660 486,667.4 502,673 519,679 535,685.5 552,692.2 569,698 585,704.3 602,707.1 618,707.6 637,707.6 652,704.9 668,701 685,697.2 700,692.7 716.5,687.7 733,679.8 749.6,673.2 766.2,667 782.7,664 799.3,661.2 815.8,658.3 832.4,656.1 848.9,654.5 865.5,652.5 882,651.3 898.6,650.5 915.1,648.7 931.7,645.9 948.2,643 964.8,638.7 980,634.6 996.5,630.6 1013.1,626.5 1029.6,622.2 1046.2,618.5 1062.7,615.7 1079.3,614.7 1095.8,613.1 1112.4,611.9 1128.9,610.8 1145.5,609.8 1162,611.1 1178.6,613.1 1195.1,614.9 1211.7,616.6 1228.2,618 1244.8,620.5 1256.5,622.4 1273.1,626 1289.6,630.5 1306.2,633.4 1322.7,636.4 1339.3,639.7 1355.8,643.9 1372.4,647.5 1388.9,650 1405.5,652.5 1422,656.1 1429.5,657" fill="none" stroke="#ff0000" stroke-width="2" stroke-linejoin="round"/>
</g>
<text x="9" y="615" font-size="9.3" fill="#000" text-anchor="start">MACD(12,26,9) 0.000535 0.000748</text>
<rect x="1645" y="604" width="1" height="1" fill="#000"/>
<rect x="1645" y="681" width="2" height="1" fill="#000"/>
<rect x="1645" y="721" width="2" height="1" fill="#000"/>
<text x="1648" y="613" font-size="9.3" fill="#000" text-anchor="start" textLength="33.4" lengthAdjust="spacingAndGlyphs">0.00244</text>
<text x="1648" y="685" font-size="9.3" fill="#000" text-anchor="start" textLength="18.2" lengthAdjust="spacingAndGlyphs">0.00</text>
<text x="1648" y="719.5" font-size="9.3" fill="#000" text-anchor="start" textLength="41" lengthAdjust="spacingAndGlyphs">-0.001273</text>
<path d="M6 746.5 H1641" stroke="#000" stroke-dasharray="3 3"/>
<path d="M6 777.5 H1641" stroke="#000" stroke-dasharray="3 3"/>
<path d="M6 813.5 H1641" stroke="#000" stroke-dasharray="3 3"/>
<g clip-path="url(#crsi)">
<polyline points="5,774.1 21,772.4 37,769.8 53,781.8 69,783.3 85,785 101,786 117,776.7 133,766.9 149,765.6 165,759.3 181,758.2 197,756 213,755.9 229,762.8 245,760.8 261,769.8 277,768.1 293,772.7 309,773.1 325,769.8 341,773.9 357,773.9 373,773.9 389,776 405,773.1 421,768.9 437,787.1 453,790 469,787.1 485,787.1 501,784.6 517,784.6 533,790 549,786 565,785.8 581,785.8 597,779.3 613,774.7 629,768.9 645,769.8 661,769.8 677,769.8 693,775.5 709,772.2 725,765.1 741,766.4 757,767.4 773,769.3 789,771.1 805,772.7 821,771.4 837,770.1 853,769.3 869,768.8 885,760.3 901,757 917,756.5 933,755.9 949,756.5 965,760.6 981,758.7 997,757.7 1013,752.9 1029,757.7 1045,758.7 1061,759 1077,758.7 1093,755.6 1109,754.9 1125,754.9 1141,754.9 1157,767 1173,767 1189,766 1205,760.2 1221,759 1237,766.8 1253,770.2 1269,773.9 1285,769.8 1301,773.6 1317,774.8 1333,774.6 1349,774.1 1365,774.9 1381,771 1397,772.8 1413,773 1429,773" fill="none" stroke="#1e90ff" stroke-width="2" stroke-linejoin="round"/>
</g>
<text x="9" y="737" font-size="9.3" fill="#000" text-anchor="start">RSI(14) 53.8416</text>
<rect x="1645" y="726" width="2" height="1" fill="#000"/>
<rect x="1645" y="828" width="2" height="1" fill="#000"/>
<text x="1648" y="735" font-size="9.3" fill="#000" text-anchor="start" textLength="15.6" lengthAdjust="spacingAndGlyphs">100</text>
<text x="1647" y="749.5" font-size="9.3" fill="#000" text-anchor="start" textLength="10.4" lengthAdjust="spacingAndGlyphs">80</text>
<text x="1647" y="780.5" font-size="9.3" fill="#000" text-anchor="start" textLength="10.4" lengthAdjust="spacingAndGlyphs">50</text>
<text x="1648" y="817" font-size="9.3" fill="#000" text-anchor="start" textLength="9.8" lengthAdjust="spacingAndGlyphs">15</text>
<text x="1648" y="825.5" font-size="9.3" fill="#000" text-anchor="start">0</text>
<rect x="5" y="830" width="1" height="3" fill="#000"/>
<text x="3.8" y="842" font-size="9.3" fill="#000" text-anchor="start">23 Aug 2023</text>
<rect x="69" y="830" width="1" height="3" fill="#000"/>
<text x="67.8" y="842" font-size="9.3" fill="#000" text-anchor="start">23 Aug 16:00</text>
<rect x="133" y="830" width="1" height="3" fill="#000"/>
<text x="131.8" y="842" font-size="9.3" fill="#000" text-anchor="start">24 Aug 08:00</text>
<rect x="197" y="830" width="1" height="3" fill="#000"/>
<text x="195.8" y="842" font-size="9.3" fill="#000" text-anchor="start">25 Aug 00:00</text>
<rect x="261" y="830" width="1" height="3" fill="#000"/>
<text x="259.8" y="842" font-size="9.3" fill="#000" text-anchor="start">25 Aug 16:00</text>
<rect x="325" y="830" width="1" height="3" fill="#000"/>
<text x="323.8" y="842" font-size="9.3" fill="#000" text-anchor="start">28 Aug 08:00</text>
<rect x="389" y="830" width="1" height="3" fill="#000"/>
<text x="387.8" y="842" font-size="9.3" fill="#000" text-anchor="start">29 Aug 00:00</text>
<rect x="453" y="830" width="1" height="3" fill="#000"/>
<text x="451.8" y="842" font-size="9.3" fill="#000" text-anchor="start">29 Aug 16:00</text>
<rect x="517" y="830" width="1" height="3" fill="#000"/>
<text x="515.8" y="842" font-size="9.3" fill="#000" text-anchor="start">30 Aug 08:00</text>
<rect x="581" y="830" width="1" height="3" fill="#000"/>
<text x="579.8" y="842" font-size="9.3" fill="#000" text-anchor="start">31 Aug 00:00</text>
<rect x="645" y="830" width="1" height="3" fill="#000"/>
<text x="643.8" y="842" font-size="9.3" fill="#000" text-anchor="start">31 Aug 16:00</text>
<rect x="709" y="830" width="1" height="3" fill="#000"/>
<text x="707.8" y="842" font-size="9.3" fill="#000" text-anchor="start">1 Sep 08:00</text>
<rect x="773" y="830" width="1" height="3" fill="#000"/>
<text x="771.8" y="842" font-size="9.3" fill="#000" text-anchor="start">4 Sep 00:00</text>
<rect x="837" y="830" width="1" height="3" fill="#000"/>
<text x="835.8" y="842" font-size="9.3" fill="#000" text-anchor="start">4 Sep 16:00</text>
<rect x="901" y="830" width="1" height="3" fill="#000"/>
<text x="899.8" y="842" font-size="9.3" fill="#000" text-anchor="start">5 Sep 08:00</text>
<rect x="965" y="830" width="1" height="3" fill="#000"/>
<text x="963.8" y="842" font-size="9.3" fill="#000" text-anchor="start">6 Sep 00:00</text>
<rect x="1029" y="830" width="1" height="3" fill="#000"/>
<text x="1027.8" y="842" font-size="9.3" fill="#000" text-anchor="start">6 Sep 16:00</text>
<rect x="1093" y="830" width="1" height="3" fill="#000"/>
<text x="1091.8" y="842" font-size="9.3" fill="#000" text-anchor="start">7 Sep 08:00</text>
<rect x="1157" y="830" width="1" height="3" fill="#000"/>
<text x="1155.8" y="842" font-size="9.3" fill="#000" text-anchor="start">8 Sep 00:00</text>
<rect x="1221" y="830" width="1" height="3" fill="#000"/>
<text x="1219.8" y="842" font-size="9.3" fill="#000" text-anchor="start">8 Sep 16:00</text>
<rect x="1285" y="830" width="1" height="3" fill="#000"/>
<text x="1283.8" y="842" font-size="9.3" fill="#000" text-anchor="start">11 Sep 08:00</text>
<rect x="1349" y="830" width="1" height="3" fill="#000"/>
<text x="1347.8" y="842" font-size="9.3" fill="#000" text-anchor="start">12 Sep 00:00</text>
<rect x="1413" y="830" width="1" height="3" fill="#000"/>
<text x="1411.8" y="842" font-size="9.3" fill="#000" text-anchor="start">12 Sep 16:00</text>
<text x="1650" y="37" font-size="9.3" fill="#000" text-anchor="start" textLength="33.6" lengthAdjust="spacingAndGlyphs">0.89525</text>
<text x="1650" y="70" font-size="9.3" fill="#000" text-anchor="start" textLength="33.6" lengthAdjust="spacingAndGlyphs">0.89400</text>
<text x="1650" y="103" font-size="9.3" fill="#000" text-anchor="start" textLength="33.6" lengthAdjust="spacingAndGlyphs">0.89275</text>
<text x="1650" y="137" font-size="9.3" fill="#000" text-anchor="start" textLength="33.6" lengthAdjust="spacingAndGlyphs">0.89150</text>
<text x="1650" y="170" font-size="9.3" fill="#000" text-anchor="start" textLength="33.6" lengthAdjust="spacingAndGlyphs">0.89025</text>
<text x="1650" y="203" font-size="9.3" fill="#000" text-anchor="start" textLength="33.6" lengthAdjust="spacingAndGlyphs">0.88900</text>
<text x="1650" y="236" font-size="9.3" fill="#000" text-anchor="start" textLength="33.6" lengthAdjust="spacingAndGlyphs">0.88775</text>
<text x="1650" y="269" font-size="9.3" fill="#000" text-anchor="start" textLength="33.6" lengthAdjust="spacingAndGlyphs">0.88650</text>
<text x="1650" y="302" font-size="9.3" fill="#000" text-anchor="start" textLength="33.6" lengthAdjust="spacingAndGlyphs">0.88525</text>
<text x="1650" y="336" font-size="9.3" fill="#000" text-anchor="start" textLength="33.6" lengthAdjust="spacingAndGlyphs">0.88400</text>
<text x="1650" y="369" font-size="9.3" fill="#000" text-anchor="start" textLength="33.6" lengthAdjust="spacingAndGlyphs">0.88275</text>
<text x="1650" y="402" font-size="9.3" fill="#000" text-anchor="start" textLength="33.6" lengthAdjust="spacingAndGlyphs">0.88150</text>
<text x="1650" y="435" font-size="9.3" fill="#000" text-anchor="start" textLength="33.6" lengthAdjust="spacingAndGlyphs">0.88025</text>
<text x="1650" y="468" font-size="9.3" fill="#000" text-anchor="start" textLength="33.6" lengthAdjust="spacingAndGlyphs">0.87900</text>
<text x="1650" y="502" font-size="9.3" fill="#000" text-anchor="start" textLength="33.6" lengthAdjust="spacingAndGlyphs">0.87775</text>
<text x="1650" y="535" font-size="9.3" fill="#000" text-anchor="start" textLength="33.6" lengthAdjust="spacingAndGlyphs">0.87650</text>
<text x="1650" y="568" font-size="9.3" fill="#000" text-anchor="start" textLength="33.6" lengthAdjust="spacingAndGlyphs">0.87525</text>
<text x="1650" y="601" font-size="9.3" fill="#000" text-anchor="start" textLength="33.6" lengthAdjust="spacingAndGlyphs">0.87400</text>
<rect x="1646" y="66" width="41" height="11" fill="#ff0000"/>
<text x="1650" y="75" font-size="9.3" fill="#fff" text-anchor="start" textLength="33.6" lengthAdjust="spacingAndGlyphs">0.89377</text>
<rect x="1646" y="101" width="41" height="11" fill="#ff0000"/>
<text x="1650" y="110" font-size="9.3" fill="#fff" text-anchor="start" textLength="33.6" lengthAdjust="spacingAndGlyphs">0.89245</text>
<rect x="1646" y="146" width="41" height="11" fill="#32cd32"/>
<text x="1650" y="155" font-size="9.3" fill="#fff" text-anchor="start" textLength="33.6" lengthAdjust="spacingAndGlyphs">0.89076</text>
<rect x="1646" y="179" width="41" height="11" fill="#0000ff"/>
<text x="1650" y="188" font-size="9.3" fill="#fff" text-anchor="start" textLength="33.6" lengthAdjust="spacingAndGlyphs">0.88952</text>
<rect x="1646" y="207" width="41" height="11" fill="#0000ff"/>
<text x="1650" y="216" font-size="9.3" fill="#fff" text-anchor="start" textLength="33.6" lengthAdjust="spacingAndGlyphs">0.88845</text>
<rect x="1646" y="133" width="41" height="11" fill="#000000"/>
<text x="1650" y="142" font-size="9.3" fill="#fff" text-anchor="start" textLength="33.6" lengthAdjust="spacingAndGlyphs">0.89131</text></svg>
</body></html>
